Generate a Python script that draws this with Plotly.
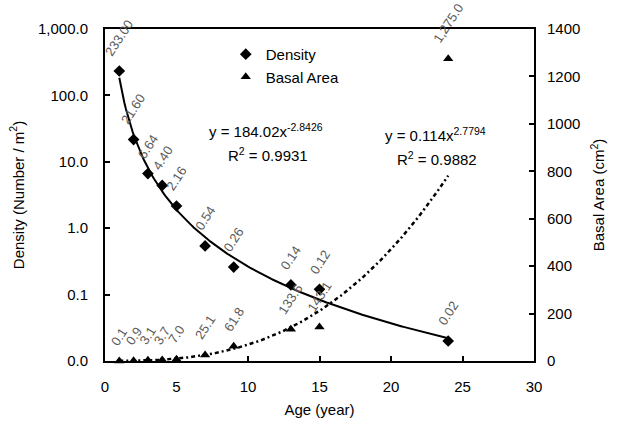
import numpy as np
import plotly.graph_objects as go

# ---- data ----
age = [1, 2, 3, 4, 5, 7, 9, 13, 15, 24]
density = [233.00, 21.60, 6.64, 4.40, 2.16, 0.54, 0.26, 0.14, 0.12, 0.02]
density_labels = ["233.00", "21.60", "6.64", "4.40", "2.16", "0.54", "0.26", "0.14", "0.12", "0.02"]
basal = [0.1, 0.9, 3.1, 3.7, 7.0, 25.1, 61.8, 133.6, 143.1, 1275.0]
basal_labels = ["0.1", "0.9", "3.1", "3.7", "7.0", "25.1", "61.8", "133.6", "143.1", "1,275.0"]

# power trendlines (coefficients as printed on the chart)
dens_a, dens_b, dens_r2 = 184.02, -2.8426, 0.9931
basal_a, basal_b, basal_r2 = 0.114, 2.7794, 0.9882

left_tickvals = [0.01, 0.1, 1, 10, 100, 1000]
left_ticktext = ["0.0", "0.1", "1.0", "10.0", "100.0", "1,000.0"]

FONT = "Liberation Sans, Arial, sans-serif"

xf = np.linspace(min(age), max(age), 200)
dens_fit = dens_a * xf ** dens_b
basal_fit = basal_a * xf ** basal_b

fig = go.Figure()

fig.add_trace(go.Scatter(x=xf, y=dens_fit, mode="lines", line=dict(color="black", width=2),
                         showlegend=False, hoverinfo="skip"))
fig.add_trace(go.Scatter(x=xf, y=basal_fit, mode="lines", yaxis="y2",
                         line=dict(color="black", width=2.5, dash="4px,3px,2px,3px"),
                         showlegend=False, hoverinfo="skip"))
fig.add_trace(go.Scatter(x=age, y=density, mode="markers", name="Density",
                         marker=dict(symbol="diamond", size=9, color="black"), cliponaxis=False))
fig.add_trace(go.Scatter(x=age, y=basal, mode="markers", name="Basal Area", yaxis="y2",
                         marker=dict(symbol="triangle-up", size=9, color="black"), cliponaxis=False))

annotations = []
for xv, yv, t in zip(age, density, density_labels):
    annotations.append(dict(x=xv, y=np.log10(yv), xref="x", yref="y", text=t, showarrow=False,
                            textangle=-57, xanchor="center", yanchor="bottom", yshift=10,
                            font=dict(family=FONT, size=13, color="#5a5a5a")))
for xv, yv, t in zip(age, basal, basal_labels):
    annotations.append(dict(x=xv, y=yv, xref="x", yref="y2", text=t, showarrow=False,
                            textangle=-57, xanchor="center", yanchor="bottom", yshift=10,
                            font=dict(family=FONT, size=13, color="#5a5a5a")))

eq_font = dict(family=FONT, size=15, color="black")
eq_pix = [
    (269, 132, f"y = {dens_a:.2f}x<sup>{dens_b}</sup>"),
    (271, 156, f"R<sup>2</sup> = {dens_r2}"),
    (442, 136, f"y = {basal_a}x<sup>{basal_b}</sup>"),
    (443, 160, f"R<sup>2</sup> = {basal_r2}"),
]
L, R, T, B = 105, 75, 29, 63
pw, ph = 617 - L - R, 428 - T - B
for px, py, txt in eq_pix:
    annotations.append(dict(x=(px - L) / pw, y=(428 - py - B) / ph, xref="paper", yref="paper",
                            text=txt, showarrow=False, font=eq_font,
                            xanchor="center", yanchor="middle"))

fig.update_layout(
    width=617, height=428,
    margin=dict(l=L, r=R, t=T, b=B),
    paper_bgcolor="white", plot_bgcolor="white",
    font=dict(family=FONT, size=15, color="black"),
    showlegend=True,
    legend=dict(x=(228 - L) / pw, y=(428 - 38 - B) / ph, xanchor="left", yanchor="top",
                bgcolor="rgba(0,0,0,0)", font=dict(family=FONT, size=15), tracegroupgap=0),
    xaxis=dict(range=[0, 30], dtick=5, tick0=0, showline=True, linecolor="black", linewidth=2,
               mirror=True, ticks="inside", ticklen=5, tickwidth=1.5, tickcolor="black",
               showgrid=False, zeroline=False, ticklabelstandoff=11,
               title=dict(text="Age (year)", font=dict(size=15), standoff=10)),
    yaxis=dict(type="log", range=[-2, 3], tickvals=left_tickvals, ticktext=left_ticktext,
               showline=True, linecolor="black", linewidth=2, ticks="inside", ticklen=5,
               tickwidth=1.5, tickcolor="black", showgrid=False, zeroline=False,
               ticklabelstandoff=12,
               title=dict(text="Density (Number / m<sup>2</sup>)", font=dict(size=15), standoff=10)),
    yaxis2=dict(overlaying="y", side="right", range=[0, 1400], dtick=200, showline=True,
                linecolor="black", linewidth=2, ticks="inside", ticklen=5, tickwidth=1.5,
                tickcolor="black", showgrid=False, zeroline=False, ticklabelstandoff=8,
                title=dict(text="Basal Area (cm<sup>2</sup>)", font=dict(size=15), standoff=14)),
    annotations=annotations,
)

fig.write_html("out.html")
